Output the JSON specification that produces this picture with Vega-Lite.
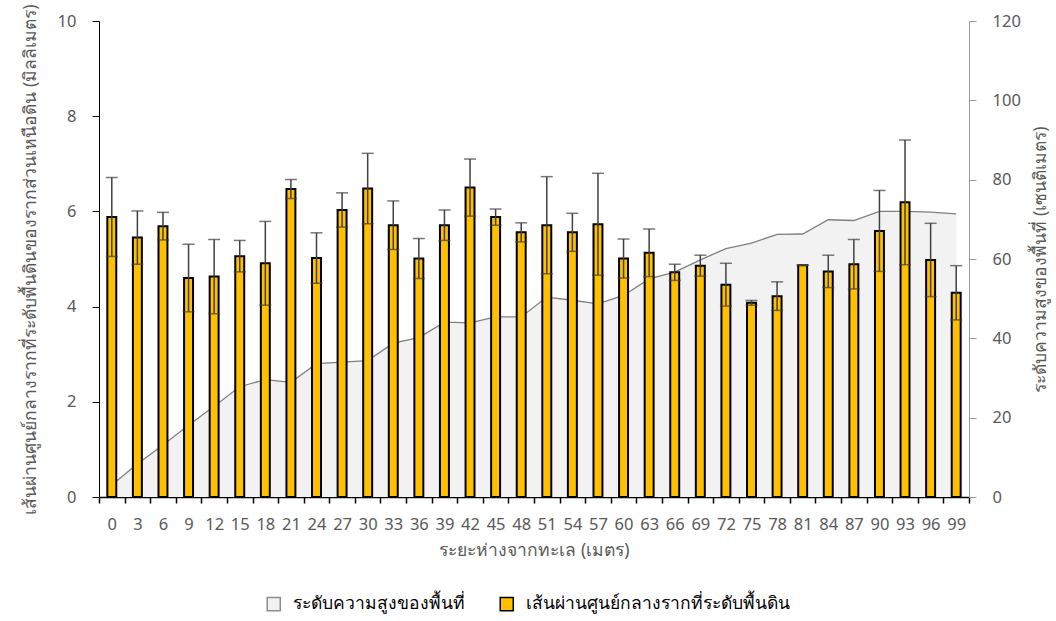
{
  "$schema": "https://vega.github.io/schema/vega-lite/v6.json",
  "width": 870,
  "height": 476,
  "autosize": {"type": "none"},
  "padding": {"left": 99, "top": 21, "right": 87, "bottom": 124},
  "background": "white",
  "config": {
    "font": "Noto Sans",
    "view": {"stroke": null},
    "axis": {
      "grid": false,
      "labelColor": "#595959",
      "labelFontSize": 16.5,
      "labelFont": "Noto Sans",
      "titleColor": "#595959",
      "titleFontSize": 17.5,
      "titleFontWeight": "normal"
    }
  },
  "data": {
    "values": [
      {"d": 0, "mean": 5.88, "err": 0.83, "elev": 3.0},
      {"d": 3, "mean": 5.45, "err": 0.56, "elev": 8.3},
      {"d": 6, "mean": 5.69, "err": 0.29, "elev": 13.1},
      {"d": 9, "mean": 4.60, "err": 0.71, "elev": 18.1},
      {"d": 12, "mean": 4.63, "err": 0.78, "elev": 22.9},
      {"d": 15, "mean": 5.06, "err": 0.33, "elev": 27.8},
      {"d": 18, "mean": 4.91, "err": 0.88, "elev": 29.6},
      {"d": 21, "mean": 6.47, "err": 0.20, "elev": 28.9},
      {"d": 24, "mean": 5.02, "err": 0.53, "elev": 33.6},
      {"d": 27, "mean": 6.03, "err": 0.36, "elev": 34.0},
      {"d": 30, "mean": 6.48, "err": 0.74, "elev": 34.4},
      {"d": 33, "mean": 5.71, "err": 0.51, "elev": 38.8},
      {"d": 36, "mean": 5.01, "err": 0.42, "elev": 40.2},
      {"d": 39, "mean": 5.71, "err": 0.32, "elev": 44.1},
      {"d": 42, "mean": 6.50, "err": 0.60, "elev": 43.9},
      {"d": 45, "mean": 5.88, "err": 0.17, "elev": 45.4},
      {"d": 48, "mean": 5.56, "err": 0.20, "elev": 45.4},
      {"d": 51, "mean": 5.71, "err": 1.02, "elev": 50.4},
      {"d": 54, "mean": 5.56, "err": 0.40, "elev": 49.6},
      {"d": 57, "mean": 5.73, "err": 1.07, "elev": 48.7},
      {"d": 60, "mean": 5.01, "err": 0.41, "elev": 50.8},
      {"d": 63, "mean": 5.13, "err": 0.50, "elev": 55.0},
      {"d": 66, "mean": 4.72, "err": 0.17, "elev": 56.7},
      {"d": 69, "mean": 4.86, "err": 0.22, "elev": 59.8},
      {"d": 72, "mean": 4.46, "err": 0.45, "elev": 62.6},
      {"d": 75, "mean": 4.08, "err": 0.05, "elev": 64.0},
      {"d": 78, "mean": 4.22, "err": 0.30, "elev": 66.2},
      {"d": 81, "mean": 4.87, "err": 0.0, "elev": 66.3},
      {"d": 84, "mean": 4.74, "err": 0.34, "elev": 69.9},
      {"d": 87, "mean": 4.89, "err": 0.52, "elev": 69.7},
      {"d": 90, "mean": 5.59, "err": 0.85, "elev": 72.0},
      {"d": 93, "mean": 6.19, "err": 1.31, "elev": 72.0},
      {"d": 96, "mean": 4.98, "err": 0.77, "elev": 71.8},
      {"d": 99, "mean": 4.29, "err": 0.57, "elev": 71.4}
    ]
  },
  "encoding": {
    "x": {
      "field": "d",
      "type": "ordinal",
      "sort": null,
      "scale": {"paddingInner": 0, "paddingOuter": 0},
      "axis": {
        "title": "ระยะห่างจากทะเล (เมตร)",
        "labelAngle": 0,
        "tickBand": "extent",
        "tickSize": 6,
        "tickWidth": 1.5,
        "tickColor": "#000000",
        "domainColor": "#000000",
        "domainWidth": 1.5,
        "labelPadding": 13,
        "titlePadding": 9
      }
    }
  },
  "layer": [
    {
      "layer": [
        {
          "mark": {"type": "area"},
          "encoding": {
            "y": {
              "field": "elev",
              "type": "quantitative",
              "scale": {"domain": [0, 120]},
              "axis": {
                "orient": "right",
                "values": [0, 20, 40, 60, 80, 100, 120],
                "title": "ระดับความสูงของพื้นที่  (เซนติเมตร)",
                "titleAngle": 270,
                "titleX": 71,
                "titleY": 238,
                "titleAlign": "center",
                "titleBaseline": "middle",
                "domainColor": "#9A9A9A",
                "tickColor": "#9A9A9A",
                "tickSize": 7,
                "labelPadding": 16
              }
            },
            "fill": {
              "datum": "ระดับความสูงของพื้นที่",
              "scale": {
                "domain": ["ระดับความสูงของพื้นที่", "เส้นผ่านศูนย์กลางรากที่ระดับพื้นดิน"],
                "range": ["#F2F2F2", "#FFC000"]
              },
              "legend": {
                "orient": "none",
                "legendX": 166,
                "legendY": 574,
                "direction": "horizontal",
                "title": null,
                "symbolType": "square",
                "symbolSize": 170,
                "symbolStrokeWidth": 1.5,
                "labelFontSize": 17.5,
                "labelColor": "#000000",
                "labelLimit": 0,
                "labelOffset": 10,
                "columnPadding": 32
              }
            }
          }
        },
        {
          "mark": {"type": "line", "color": "#7F7F7F", "strokeWidth": 1.3},
          "encoding": {
            "y": {"field": "elev", "type": "quantitative"}
          }
        }
      ]
    },
    {
      "layer": [
        {
          "mark": {"type": "bar", "width": {"band": 0.35}, "strokeWidth": 2},
          "encoding": {
            "y": {
              "field": "mean",
              "type": "quantitative",
              "scale": {"domain": [0, 10]},
              "title": "เส้นผ่านศูนย์กลางรากที่ระดับพื้นดินของรากส่วนเหนือดิน  (มิลลิเมตร)",
              "axis": {
                "orient": "left",
                "values": [0, 2, 4, 6, 8, 10],
                "titleAngle": 270,
                "titleX": -69,
                "titleY": 238,
                "titleAlign": "center",
                "titleBaseline": "middle",
                "domainColor": "#000000",
                "tickColor": "#000000",
                "tickSize": 7,
                "labelPadding": 16
              }
            },
            "fill": {"datum": "เส้นผ่านศูนย์กลางรากที่ระดับพื้นดิน"},
            "stroke": {
              "datum": "เส้นผ่านศูนย์กลางรากที่ระดับพื้นดิน",
              "scale": {
                "domain": ["ระดับความสูงของพื้นที่", "เส้นผ่านศูนย์กลางรากที่ระดับพื้นดิน"],
                "range": ["#8C8C8C", "#000000"]
              }
            }
          }
        },
        {
          "mark": {
            "type": "errorbar",
            "ticks": {"size": 12, "thickness": 1.5, "color": "#404040"},
            "rule": {"strokeWidth": 1.5, "color": "#404040"}
          },
          "encoding": {
            "y": {
              "field": "mean",
              "type": "quantitative",
              "scale": {"domain": [0, 10]},
              "title": "เส้นผ่านศูนย์กลางรากที่ระดับพื้นดินของรากส่วนเหนือดิน  (มิลลิเมตร)"
            },
            "yError": {"field": "err"}
          }
        }
      ]
    }
  ],
  "resolve": {"scale": {"y": "independent"}}
}
